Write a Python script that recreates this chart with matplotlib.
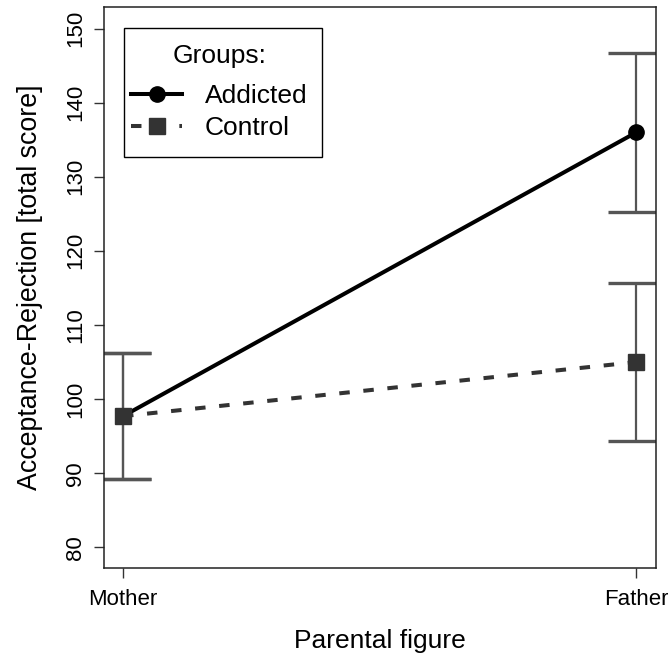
import matplotlib
matplotlib.use("Agg")
import matplotlib.pyplot as plt
from matplotlib.patches import Rectangle

plt.rcParams['font.family'] = ['Liberation Sans', 'DejaVu Sans']

# data
figures = ["Mother", "Father"]
addicted_mean = [97.7, 136.0]
addicted_err = [8.5, 10.7]
control_mean = [97.7, 105.0]
control_err = [8.5, 10.7]
yticks = [80, 90, 100, 110, 120, 130, 140, 150]

x = [1, 2]
bar_col = "#555555"

fig = plt.figure(figsize=(6.68, 6.56), dpi=100)
ax = fig.add_axes([0.1557, 0.134, 0.8263, 0.8553])

# error bars (drawn below the lines)
for means, errs in [(addicted_mean, addicted_err), (control_mean, control_err)]:
    for xi, m, e in zip(x, means, errs):
        ax.vlines(xi, m - e, m + e, color=bar_col, lw=1.6, zorder=1)
        ax.hlines([m - e, m + e], xi - 0.055, xi + 0.055, color=bar_col, lw=2.4, zorder=1)

ax.plot(x, addicted_mean, color="black", lw=2.9, marker="o", markersize=11,
        label="Addicted", zorder=3)
ax.plot(x, control_mean, color="#333333", lw=2.9, ls=(0, (2.6, 3.4)), marker="s",
        markersize=12, label="Control", zorder=4)

ax.set_xlim(0.963, 2.038)
ax.set_ylim(77.2, 152.9)
ax.set_xticks(x)
ax.set_xticklabels(figures, fontsize=16)
ax.set_yticks(yticks)
ax.set_yticklabels([str(v) for v in yticks], fontsize=16, rotation=90, va="center")
ax.tick_params(axis="both", length=7, width=1, color="#333333", pad=6)
ax.tick_params(axis="x", pad=8)
for s in ax.spines.values():
    s.set_color("#222222")
    s.set_linewidth(1.1)

ax.set_xlabel("Parental figure", fontsize=19, labelpad=14)
ax.set_ylabel("Acceptance-Rejection [total score]", fontsize=19.3, labelpad=16)

# legend box drawn by hand, legend itself without frame
ax.add_patch(Rectangle((0.0362, 0.7326), 0.3588, 0.23, transform=ax.transAxes,
                       fill=False, edgecolor="black", lw=1.0, zorder=5))
leg = ax.legend(title="Groups:", loc="upper left", bbox_to_anchor=(0.049, 0.934),
                fontsize=19, title_fontsize=19, frameon=False, handlelength=1.93,
                borderpad=0, borderaxespad=0, labelspacing=0.3, handletextpad=0.87)
leg._legend_box.sep = 11.5

fig.savefig("out.png", dpi=100)
